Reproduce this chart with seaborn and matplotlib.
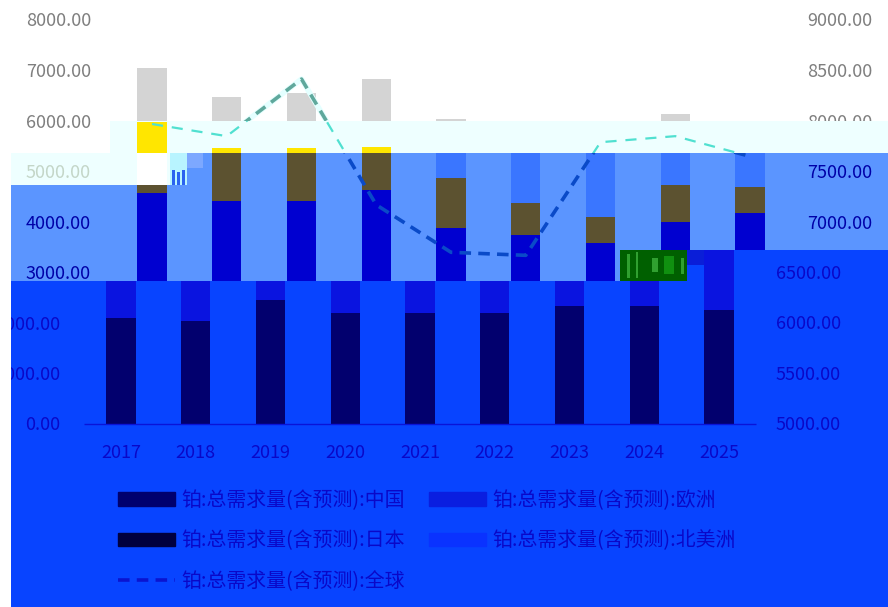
import numpy as np
import matplotlib
matplotlib.use("Agg")
import matplotlib.pyplot as plt
from matplotlib.patches import Patch, Rectangle
from matplotlib.lines import Line2D
import seaborn as sns

years = ["2017", "2018", "2019", "2020", "2021", "2022", "2023", "2024", "2025"]
china = [2100, 2040, 2455, 2200, 2200, 2200, 2335, 2335, 2260]
europe = [2475, 2375, 1960, 2430, 1680, 1540, 1250, 1665, 1920]
japan = [1400, 1050, 1050, 855, 990, 635, 515, 730, 510]
north_america = [1075, 1010, 1090, 1345, 1170, 1425, 1700, 1410, 1210]
world = [7970, 7850, 8415, 7170, 6700, 6670, 7790, 7850, 7650]

left_ticks = ["0.00", "1000.00", "2000.00", "3000.00", "4000.00", "5000.00", "6000.00", "7000.00", "8000.00"]
right_ticks = ["5000.00", "5500.00", "6000.00", "6500.00", "7000.00", "7500.00", "8000.00", "8500.00", "9000.00"]
names = ["铂:总需求量(含预测):中国", "铂:总需求量(含预测):日本", "铂:总需求量(含预测):全球",
         "铂:总需求量(含预测):欧洲", "铂:总需求量(含预测):北美洲"]

W, H = 888, 607
BASE_Y = 424      # pixel row of value 0
PX_PER_UNIT = 50.5 / 1000
STEP = 74.75      # pixels between two years
TEXT_DROP = 1.5   # pixels the labels sit under their tick value

sns.set_theme(style="white")
plt.rcParams["font.family"] = ["Noto Sans CJK SC", "DejaVu Sans"]

fig = plt.figure(figsize=(W / 100, H / 100), dpi=100, facecolor="white")


def draw_band(x0, x1, y0, y1, first_x, bg, cols, line=None, halo=None, text="#7f7f7f", lw=2.6, dash=(3.2, 2)):
    # one block of the picture, with its own colours, same scales as the others
    ax = fig.add_axes([x0 / W, 1 - y1 / H, (x1 - x0) / W, (y1 - y0) / H], facecolor=bg)
    tops = np.cumsum([china, europe, japan, north_america], axis=0)
    for top, col in zip(tops[::-1], cols[::-1]):
        sns.barplot(x=years, y=top, color=col, width=0.39, saturation=1, linewidth=0, ax=ax)
    ax.set_xlim((x0 - first_x) / STEP, (x1 - first_x) / STEP)
    ax.set_ylim((BASE_Y - y1) / PX_PER_UNIT, (BASE_Y - y0) / PX_PER_UNIT)
    ax.set(xlabel="", ylabel="", xticks=[], yticks=[])
    sns.despine(ax=ax, left=True, bottom=True)

    ax2 = ax.twinx()
    ax2.set_ylim(5000 + ax.get_ylim()[0] / 2, 5000 + ax.get_ylim()[1] / 2)
    ax2.set(xticks=[], yticks=[], ylabel="")
    sns.despine(ax=ax2, left=True, bottom=True, right=True)
    xs = np.arange(len(years))
    if halo:
        sns.lineplot(x=xs, y=world, color=halo, lw=4, ax=ax2, legend=False, sort=False)
    if line:
        ln = sns.lineplot(x=xs, y=world, color=line, lw=lw, ax=ax2, legend=False, sort=False)
        ln.lines[-1].set_dashes(dash)
    ax2.set_xlim(ax.get_xlim())
    ax2.set_ylabel("")

    # labels only in the block where they fall, clipped at its edge
    left_px = first_x - 61
    right_px = first_x + 720
    drop = TEXT_DROP / PX_PER_UNIT
    for i, s in enumerate(left_ticks):
        py = BASE_Y - i * 1000 * PX_PER_UNIT
        if y0 - 8 < py < y1 + 10 and x0 < left_px and left_px - 70 < x1:
            ax.text((left_px - first_x) / STEP, i * 1000 - drop, s, ha="right", va="center", color=text,
                    fontsize=13, clip_on=True)
    for i, s in enumerate(right_ticks):
        py = BASE_Y - i * 1000 * PX_PER_UNIT
        if y0 - 8 < py < y1 + 10 and x1 > right_px - 70 and x0 < right_px:
            ax2.text((right_px - first_x) / STEP, 5000 + i * 500 - drop / 2, s, ha="right", va="center", color=text,
                     fontsize=13, clip_on=True)
    if y0 < 451 < y1:
        for i, s in enumerate(years):
            ax.text(i, -535 - drop, s, ha="center", va="center", color=text, fontsize=13, clip_on=True)
    return ax


grey4 = ["#d4d4d4"] * 4
draw_band(0, 888, 0, 121, 152, "white", grey4, line="#5fa89c", halo="#e4ffff")
draw_band(0, 110, 121, 153, 152, "white", grey4)

pale = "#eeffff"
draw_band(110, 888, 121, 153, 152, pale, ["#eeffff", "#eeffff", "#ffe600", "#eeffff"],
          line="#50e0d0", text=pale, lw=1.6, dash=(5, 4))
draw_band(11, 170, 153, 185, 152, pale, ["white"] * 4, text="#c4d6c8")
draw_band(170, 187, 153, 185, 152, "#b8f4ff", ["#b8f4ff"] * 4, text="#b8f4ff")

mid_cols = ["#0000d0", "#0000d0", "#5c5230", "#3a76ff"]
draw_band(187, 888, 153, 185, 152, "#5b95ff", mid_cols, line="#0a4ac8", text="#0000a8")
draw_band(11, 888, 185, 250, 152, "#5b95ff", mid_cols, line="#0a4ac8", text="#0000a8")
draw_band(11, 620, 250, 281, 152, "#5b95ff", mid_cols, line="#0a4ac8", text="#0000a8")

low_cols = ["#02006e", "#0a14e0", "#0a14e0", "#0a14e0"]
draw_band(687, 888, 250, 281, 121, "#0844ff", low_cols, text="#0a08c8")
low = draw_band(11, 888, 281, 607, 121, "#0844ff", low_cols, text="#0a08c8")
low.hlines(0, -0.5, 8.5, color="#0a14d8", lw=1)

# glitch blocks of the picture
for x0, y0, w, h, col in [(620, 250, 67, 31, "#006000"), (627, 254, 3, 24, "#30a030"), (636, 252, 2, 26, "#30a030"),
                          (652, 258, 6, 14, "#30a030"), (664, 256, 10, 18, "#109010"), (681, 258, 3, 16, "#30a030"),
                          (687, 250, 17, 15, "#0a1ed8"), (187, 153, 16, 15, "#7da8ff"),
                          (172, 170, 3, 15, "#2a62f0"), (177, 172, 3, 13, "#2a62f0"), (182, 170, 3, 15, "#2a62f0")]:
    fig.add_artist(Rectangle((x0 / W, 1 - (y0 + h) / H), w / W, h / H, transform=fig.transFigure,
                             facecolor=col, edgecolor="none"))

handles = [Patch(color="#00006e"), Patch(color="#000040"),
           Line2D([], [], color="#0a14d0", lw=2.6, dashes=(3.2, 2)),
           Patch(color="#0a1ee0"), Patch(color="#0a32ff")]
low.legend(handles, names, ncol=2, loc="upper left", bbox_to_anchor=(118 / W, 1 - 490 / H),
           bbox_transform=fig.transFigure, frameon=False, fontsize=14.3, labelcolor="#0a08c8",
           handlelength=2.85, handletextpad=0.36, columnspacing=1.2, labelspacing=0.98,
           borderaxespad=0, borderpad=0)

fig.savefig("out.png", dpi=100)
